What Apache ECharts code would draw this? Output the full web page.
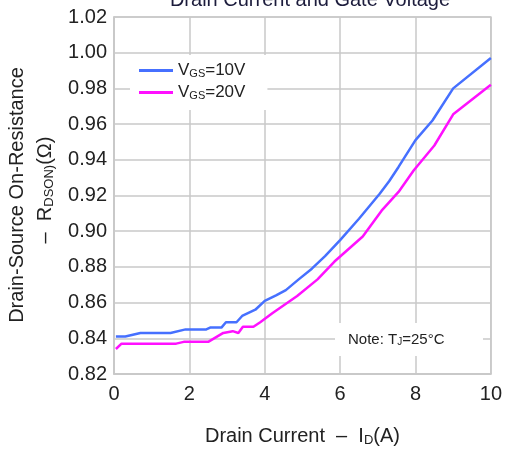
<!DOCTYPE html>
<html><head><meta charset="utf-8">
<script src="https://cdn.jsdelivr.net/npm/echarts@6/dist/echarts.min.js"></script>
<style>html,body{margin:0;padding:0;background:#fff}#c{width:505px;height:452px}</style>
</head><body><div id="c"></div>
<script>
const seriesNames = ['VGS=10V', 'VGS=20V'];
const vgs10 = [[0.05,0.841],[0.3,0.841],[0.5,0.842],[0.7,0.843],[1.5,0.843],[1.9,0.845],[2.45,0.845],[2.55,0.846],[2.85,0.846],[2.97,0.849],[3.25,0.849],[3.4,0.8525],[3.75,0.856],[4.0,0.861],[4.3,0.864],[4.56,0.867],[4.9,0.873],[5.25,0.879],[5.6,0.886],[6.0,0.895],[6.5,0.907],[7.05,0.921],[7.3,0.928],[7.55,0.936],[8.0,0.951],[8.45,0.962],[9.0,0.980],[10,0.997]];
const vgs20 = [[0.05,0.834],[0.2,0.837],[1.65,0.837],[1.85,0.838],[2.5,0.838],[2.9,0.843],[3.15,0.844],[3.3,0.843],[3.42,0.8465],[3.7,0.8465],[3.88,0.849],[4.2,0.854],[4.86,0.8637],[5.4,0.873],[5.85,0.883],[6.6,0.897],[7.1,0.9115],[7.55,0.922],[7.95,0.934],[8.5,0.948],[9.0,0.9655],[10,0.982]];
const xTicks = [0, 10, 2];      // min, max, interval
const yTicks = [0.82, 1.02, 0.02];
const titleText = 'Drain Current and Gate Voltage';
const noteText = ['Note: T', 'J', '=25°C'];

const FONT = 'Liberation Sans, Arial, sans-serif';
const gridColor = '#c8c8c8';
const chart = echarts.init(document.getElementById('c'));
chart.setOption({
  animation: false,
  backgroundColor: '#fff',
  textStyle: { fontFamily: FONT },
  grid: { left: 114, right: 12, top: 17, bottom: 75, show: true, borderColor: gridColor, borderWidth: 1.5 },
  xAxis: {
    type: 'value', min: xTicks[0], max: xTicks[1], interval: xTicks[2],
    axisLine: { show: true, lineStyle: { color: gridColor, width: 1.5 } },
    axisTick: { show: false },
    splitLine: { show: true, lineStyle: { color: gridColor, width: 1.5 } },
    axisLabel: { color: '#222', fontSize: 20, margin: 10, fontFamily: FONT },
    name: '{t|Drain Current  –  I}{s|D}{t|(A)}',
    nameLocation: 'middle', nameGap: 52,
    nameTextStyle: { rich: {
      t: { fontSize: 20, color: '#222', fontFamily: FONT },
      s: { fontSize: 13, color: '#222', fontFamily: FONT, verticalAlign: 'bottom', padding: [8, 0, 0, 0] }
    } }
  },
  yAxis: {
    type: 'value', min: yTicks[0], max: yTicks[1], interval: yTicks[2],
    axisLine: { show: true, lineStyle: { color: gridColor, width: 1.5 } },
    axisTick: { show: false },
    splitLine: { show: true, lineStyle: { color: gridColor, width: 1.5 } },
    axisLabel: { color: '#222', fontSize: 20, margin: 7, fontFamily: FONT, formatter: v => v.toFixed(2) }
  },
  legend: {
    orient: 'vertical', left: 130, top: 55,
    backgroundColor: '#fff', padding: [7, 22, 9, 9],
    icon: 'rect', itemWidth: 34, itemHeight: 3, itemGap: 5,
    data: seriesNames,
    formatter: n => '{v|V}{s|GS}{v|' + n.slice(3) + '}',
    textStyle: { rich: {
      v: { fontSize: 17, color: '#222', fontFamily: FONT },
      s: { fontSize: 11, color: '#222', fontFamily: FONT, verticalAlign: 'bottom', padding: [6, 0, 0, 0] }
    } }
  },
  graphic: [
    { type: 'text', x: 310, y: 0, style: { text: titleText, fontSize: 20, fill: '#1c1c3c', fontFamily: FONT, align: 'center', verticalAlign: 'middle' } },
    { type: 'text', x: 17, y: 195, rotation: Math.PI / 2, style: { text: 'Drain-Source On-Resistance', fontSize: 20, fill: '#222', fontFamily: FONT, align: 'center', verticalAlign: 'middle' } },
    { type: 'text', x: 45, y: 190, rotation: Math.PI / 2, style: { text: '{t|–  R}{s|DSON)}{t|(Ω)}', align: 'center', verticalAlign: 'middle',
      rich: { t: { fontSize: 20, fill: '#222', fontFamily: FONT }, s: { fontSize: 13, fill: '#222', fontFamily: FONT, verticalAlign: 'bottom', padding: [8, 0, 0, 0] } } } },
    { type: 'rect', shape: { x: 335, y: 323, width: 148, height: 33 }, style: { fill: '#fff' }, z: 50 },
    { type: 'text', x: 348, y: 340, z: 51, style: { text: '{t|' + noteText[0] + '}{s|' + noteText[1] + '}{t|' + noteText[2] + '}', verticalAlign: 'middle',
      rich: { t: { fontSize: 15, fill: '#222', fontFamily: FONT }, s: { fontSize: 10, fill: '#222', fontFamily: FONT, verticalAlign: 'bottom', padding: [5, 0, 0, 0] } } } }
  ],
  series: [
    { name: seriesNames[0], type: 'line', data: vgs10, symbol: 'none', lineStyle: { color: '#4670ff', width: 2.5 }, itemStyle: { color: '#4670ff' } },
    { name: seriesNames[1], type: 'line', data: vgs20, symbol: 'none', lineStyle: { color: '#ff10ff', width: 2.5 }, itemStyle: { color: '#ff10ff' } }
  ]
});
</script></body></html>
